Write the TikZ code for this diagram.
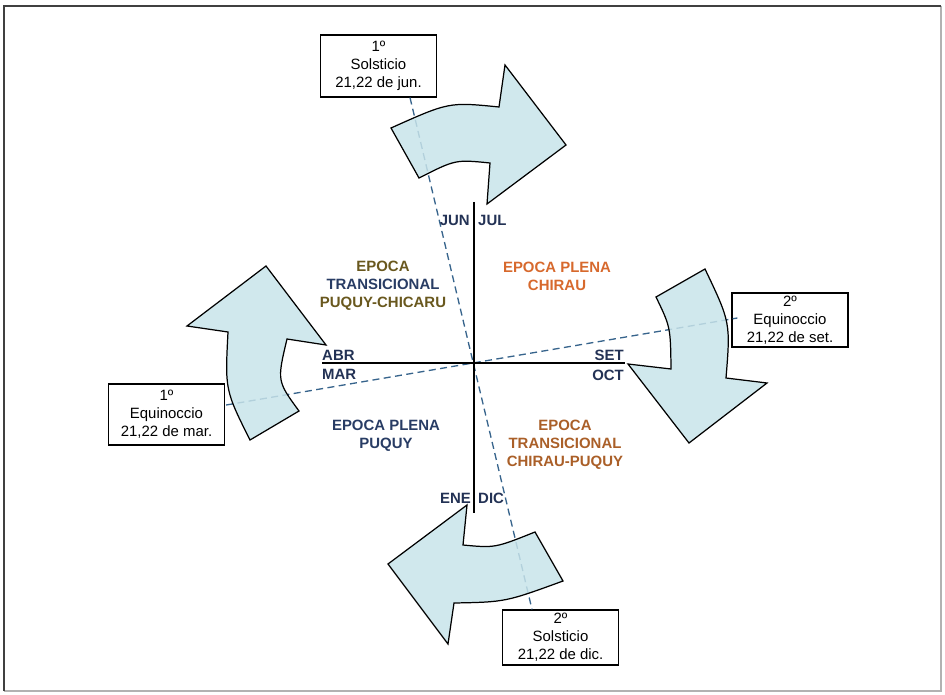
\documentclass[tikz,border=0pt]{standalone}
\usepackage{fontspec}
\setmainfont{Liberation Sans}
\usepackage{xcolor}
\usepackage{tikz}
\usetikzlibrary{positioning,calc}

\definecolor{arrowfill}{RGB}{200,228,234}
\definecolor{dashblue}{RGB}{55,100,140}
\definecolor{monthnavy}{RGB}{35,50,85}
\definecolor{olivetxt}{RGB}{105,88,30}
\definecolor{navytxt}{RGB}{40,60,100}
\definecolor{orangetxt}{RGB}{215,105,45}
\definecolor{browntxt}{RGB}{170,95,40}

\begin{document}
\begin{tikzpicture}[
    x=0.02cm, y=-0.02cm,
    datebox/.style={rectangle, draw=black, fill=white, line width=0.7pt, minimum width=2.32cm, inner sep=0pt, align=center, font=\fontsize{8.5}{10.2}\selectfont},
    epoch/.style={align=center, font=\fontsize{8.5}{10.2}\selectfont\bfseries, inner sep=1pt},
    month/.style={font=\fontsize{8.5}{9}\selectfont\bfseries, text=monthnavy, inner sep=0.5pt},
    bigarrow/.style={draw=black, line width=0.7pt, fill=arrowfill, fill opacity=0.85, line join=miter},
    axis/.style={draw=black, line width=0.8pt},
    dashline/.style={draw=dashblue, line width=0.75pt, dash pattern=on 4pt off 2.5pt}
]
    \useasboundingbox (0,0) rectangle (945,695);

    % Frame
    \draw[black!30, line width=1pt] (941,6) -- (941,691) -- (4,691);
    \draw[black!75, line width=1.6pt] (4,691) -- (4,6) -- (941,6);

    % Boxes (solstices and equinoxes)
    \node[datebox, minimum height=1.24cm] (sol1) at (378.5,66) {1º\\Solsticio\\21,22 de jun.};
    \node[datebox, minimum height=1.08cm] (eq2) at (790,320) {2º\\Equinoccio\\21,22 de set.};
    \node[datebox, minimum height=1.22cm] (eq1) at (166.5,414.5) {1º\\Equinoccio\\21,22 de mar.};
    \node[datebox, minimum height=1.10cm] (sol2) at (560.5,637.5) {2º\\Solsticio\\21,22 de dic.};

    % Dashed lines through the centre
    \draw[dashline] ($(sol1.south)+(31.5,0)$) -- ($(sol2.north)+(-28.5,0)$);
    \draw[dashline] ($(eq1.east)+(1,-9.5)$) -- ($(eq2.west)+(6,-2)$);

    % Curved arrows
    \filldraw[bigarrow] (391,128) .. controls (449,102) .. (499,107) -- (505,65) -- (566,145)
        -- (487,204) -- (490,163) .. controls (455.5,159.5) .. (419,178) -- cycle;
    \filldraw[bigarrow] (266,266) -- (326,345) -- (287,339) .. controls (277,381) .. (299,411)
        -- (250,440) .. controls (225,390) .. (228,332) -- (187,326) -- cycle;
    \filldraw[bigarrow] (656,297) -- (705,269) .. controls (730.5,322.5) .. (726,378) -- (767,383)
        -- (689,443) -- (628,364) -- (671,369) .. controls (670.5,327) .. (656,297) -- cycle;
    \filldraw[bigarrow] (535,532) -- (563,581) .. controls (505.5,602) .. (454,603) -- (448,644)
        -- (388,564) -- (467,505) -- (463,545) .. controls (495,548) .. (535,532) -- cycle;

    % Axes
    \coordinate (axN) at (474,202);
    \coordinate (axS) at (474,513);
    \coordinate (axW) at (322,363);
    \coordinate (axE) at (625,363);
    \draw[axis] (axN) -- (axS);
    \draw[axis] (axW) -- (axE);

    % Months
    \node[month, anchor=east] (jun) at (471,220) {JUN};
    \node[month, anchor=west] (jul) at (477,220) {JUL};
    \node[month, anchor=west] (abr) at (321,355) {ABR};
    \node[month, anchor=west] (mar) at (321,374) {MAR};
    \node[month, anchor=east] (set) at (625,355) {SET};
    \node[month, anchor=east] (oct) at (625,375) {OCT};
    \node[month, anchor=east] (ene) at (472,498) {ENE};
    \node[month, anchor=west] (dic) at (477,498) {DIC};

    % Epochs
    \node[epoch] (transpc) at (383,286) {\textcolor{olivetxt}{EPOCA}\\\textcolor{navytxt}{TRANSICIONAL}\\\textcolor{olivetxt}{PUQUY-CHICARU}};
    \node[epoch, text=orangetxt] (plenachirau) at (557,276) {EPOCA PLENA\\CHIRAU};
    \node[epoch, text=navytxt] (plenapuquy) at (386,436) {EPOCA PLENA\\PUQUY};
    \node[epoch, text=browntxt] (transcp) at (565,445) {EPOCA\\TRANSICIONAL\\CHIRAU-PUQUY};
\end{tikzpicture}
\end{document}
